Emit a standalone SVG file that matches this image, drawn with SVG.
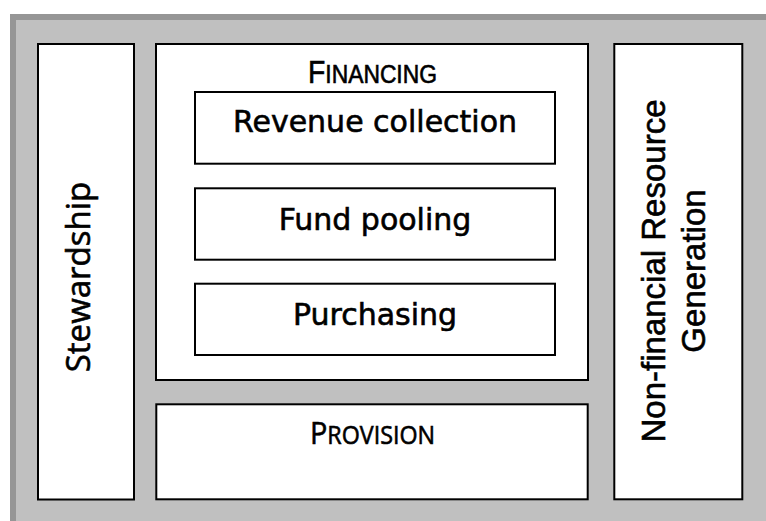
<svg xmlns="http://www.w3.org/2000/svg" width="766" height="521" viewBox="0 0 766 521">
<style>
.box{fill:#fff;stroke:#000;stroke-width:2}
text{fill:#000;stroke:#000;stroke-width:0.6}
.inner{font-family:"DejaVu Sans",sans-serif;font-size:30px;text-anchor:middle}
.sc1{font-family:"Liberation Sans Narrow","Liberation Sans",sans-serif}
.sc2{font-family:"Open Sans",sans-serif}
.side{font-family:"Liberation Sans",Arial,sans-serif;font-size:33px;text-anchor:middle}
</style>
<rect x="0" y="0" width="766" height="521" fill="#fff"/>
<rect x="10" y="14" width="756" height="507" fill="#c0c0c0"/>
<rect x="10" y="14" width="756" height="6" fill="#969696"/>
<rect x="10" y="14" width="6" height="507" fill="#969696"/>
<g id="connectors"/>
<g id="stewardship">
<rect class="box" x="38" y="44" width="96" height="455.5"/>
<text class="sc2" font-size="33" text-anchor="middle" transform="translate(90,277) rotate(-90)">Stewardship</text>
</g>
<g id="financing">
<rect class="box" x="156" y="44" width="432" height="336"/>
<text class="sc1" x="308" y="82.7" textLength="129" lengthAdjust="spacingAndGlyphs"><tspan font-size="31">F</tspan><tspan font-size="25">INANCING</tspan></text>
</g>
<g id="revenue-collection">
<rect class="box" x="195" y="92" width="360" height="71.7"/>
<text class="inner" x="375" y="131.5">Revenue collection</text>
</g>
<g id="fund-pooling">
<rect class="box" x="195" y="188.3" width="360" height="71.4"/>
<text class="inner" x="375" y="229.5">Fund pooling</text>
</g>
<g id="purchasing">
<rect class="box" x="195" y="283.7" width="360" height="71.3"/>
<text class="inner" x="375" y="325">Purchasing</text>
</g>
<g id="provision">
<rect class="box" x="156.3" y="404.3" width="431.4" height="95"/>
<text class="sc2" x="310" y="444.3" textLength="125" lengthAdjust="spacingAndGlyphs"><tspan font-size="31">P</tspan><tspan font-size="25">ROVISION</tspan></text>
</g>
<g id="non-financial-resource-generation">
<rect class="box" x="614.3" y="44" width="128" height="455.3"/>
<text class="side" transform="translate(665,271) rotate(-90)">Non-financial Resource</text>
<text class="side" transform="translate(705,271) rotate(-90)">Generation</text>
</g>
</svg>
